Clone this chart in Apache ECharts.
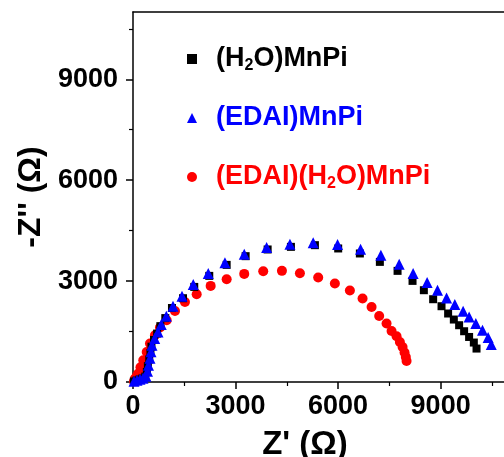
<!DOCTYPE html>
<html><head><meta charset="utf-8">
<script src="https://cdn.jsdelivr.net/npm/echarts@6/dist/echarts.min.js"></script>
<style>html,body{margin:0;padding:0;background:#fff}#c{width:504px;height:457px}</style>
</head><body><div id="c"></div>
<script>
const seriesNames = ['(H2O)MnPi', '(EDAI)MnPi', '(EDAI)(H2O)MnPi'];
const seriesColors = ['#000000', '#0000ff', '#ff0000'];
const seriesSymbols = ['rect', 'triangle', 'circle'];
const xMajorTicks = [0, 3000, 6000, 9000];
const xMinorTicks = [1500, 4500, 7500, 10500];
const yMajorTicks = [0, 3000, 6000, 9000];
const yMinorTicks = [1500, 4500, 7500, 10500];
const xTitle = "Z' (Ω)";
const yTitle = "-Z'' (Ω)";

// (H2O)MnPi - black squares
const h2oX = [25,105,190,275,360,405,435,475,510,540,615,705,800,945,1140,1462,1792,2231,2740,3295,3939,4620,5322,6003,6637,7222,7740,8178,8509,8781,9026,9219,9386,9541,9687,9833,9971,10050];
const h2oY = [15,45,75,105,160,300,470,670,860,1050,1250,1440,1660,1900,2200,2491,2827,3155,3482,3741,3940,4018,4068,3970,3821,3571,3304,3006,2729,2461,2253,2036,1857,1688,1509,1339,1173,994];

// (EDAI)MnPi - blue triangles
const edaiX = [29,117,205,292,380,424,453,497,526,556,634,731,827,974,1170,1433,1763,2202,2690,3254,3909,4591,5272,5985,6658,7251,7787,8196,8605,8909,9173,9415,9658,9833,10029,10225,10389,10480];
const edaiY = [21,51,80,110,170,318,497,705,899,1092,1292,1488,1708,1955,2253,2551,2899,3226,3542,3801,4000,4098,4137,4089,3949,3771,3503,3226,2958,2729,2500,2304,2104,1935,1738,1539,1321,1113];

// (EDAI)(H2O)MnPi - red circles
const mixX = [29,58,117,155,219,301,401,497,643,789,985,1228,1520,1863,2272,2740,3254,3810,4357,4883,5418,5906,6345,6716,6980,7202,7418,7564,7711,7807,7886,7944,7982,8003];
const mixY = [21,101,185,250,438,646,893,1143,1390,1619,1836,2113,2381,2610,2857,3057,3214,3295,3304,3235,3107,2929,2720,2482,2232,1964,1738,1518,1360,1190,1042,875,744,625];

const FONT = "'Liberation Sans', Arial, sans-serif";
const pairs = (xs, ys) => xs.map((x, i) => [x, ys[i]]);
const seriesData = [pairs(h2oX, h2oY), pairs(edaiX, edaiY), pairs(mixX, mixY)];
const symbolSizes = [8, 11, 10];
const richKeys = ['k', 'b', 'r'];

const rich = {};
richKeys.forEach((k, i) => {
  rich[k] = { color: seriesColors[i], fontSize: 27, fontWeight: 'bold', fontFamily: FONT, lineHeight: 30, verticalAlign: 'middle' };
  rich[k + 's'] = { color: seriesColors[i], fontSize: 16, fontWeight: 'bold', fontFamily: FONT, lineHeight: 24, verticalAlign: 'bottom' };
});

const chart = echarts.init(document.getElementById('c'), null, { renderer: 'canvas' });
const axisLine = { show: true, lineStyle: { color: '#000', width: 1.5 } };
const labelStyle = { color: '#000', fontSize: 27, fontWeight: 'bold', fontFamily: FONT, formatter: v => String(v) };

const option = {
  animation: false,
  backgroundColor: '#fff',
  grid: { left: 133, right: -5, top: 12, bottom: 75, containLabel: false, outerBoundsMode: 'none' },
  legend: {
    orient: 'vertical', left: 187, top: 44, padding: 0, itemGap: 29,
    itemWidth: 10, itemHeight: 10,
    data: seriesNames.map((n, i) => ({ name: n, icon: seriesSymbols[i] })),
    textStyle: { padding: [0, 0, 0, 14], lineHeight: 30, rich: rich },
    formatter: function (name) {
      const k = richKeys[seriesNames.indexOf(name)];
      const parts = name.split('H2O');
      return parts.map(p => p ? '{' + k + '|' + p + '}' : '').join('{' + k + '|H}{' + k + 's|2}{' + k + '|O}');
    }
  },
  xAxis: [
    { type: 'value', position: 'bottom', min: 0, max: 11000, interval: 3000,
      name: xTitle, nameLocation: 'middle', nameGap: 46,
      nameTextStyle: { color: '#000', fontSize: 33, fontWeight: 'bold', fontFamily: FONT, padding: [0, 32, 0, 0] },
      axisLine: axisLine, splitLine: { show: false },
      axisTick: { show: true, inside: false, length: 7, lineStyle: { color: '#000', width: 1.5 }, customValues: xMajorTicks },
      axisLabel: Object.assign({ margin: 11, customValues: xMajorTicks }, labelStyle) },
    { type: 'value', position: 'bottom', min: 0, max: 11000, interval: 1500,
      axisLine: { show: false }, splitLine: { show: false }, axisLabel: { show: false },
      axisTick: { show: true, inside: false, length: 4, lineStyle: { color: '#000', width: 1.2 }, customValues: xMinorTicks } },
    { type: 'value', position: 'top', min: 0, max: 11000, interval: 3000,
      axisLine: axisLine, splitLine: { show: false }, axisLabel: { show: false }, axisTick: { show: false } }
  ],
  yAxis: [
    { type: 'value', position: 'left', min: 0, max: 11000, interval: 3000,
      name: yTitle, nameLocation: 'middle', nameGap: 82, nameRotate: 90,
      nameTextStyle: { color: '#000', fontSize: 32, fontWeight: 'bold', fontFamily: FONT },
      axisLine: axisLine, splitLine: { show: false },
      axisTick: { show: true, inside: false, length: 7, lineStyle: { color: '#000', width: 1.5 }, customValues: yMajorTicks },
      axisLabel: Object.assign({ margin: 15, customValues: yMajorTicks }, labelStyle) },
    { type: 'value', position: 'left', offset: 0, min: 0, max: 11000, interval: 1500,
      axisLine: { show: false }, splitLine: { show: false }, axisLabel: { show: false },
      axisTick: { show: true, inside: false, length: 4, lineStyle: { color: '#000', width: 1.2 }, customValues: yMinorTicks } }
  ],
  series: [2, 0, 1].map(i => ({
    name: seriesNames[i], type: 'scatter', xAxisIndex: 0, yAxisIndex: 0,
    symbol: seriesSymbols[i], symbolSize: symbolSizes[i],
    itemStyle: { color: seriesColors[i], opacity: 1 },
    data: seriesData[i], z: 2 + (i === 1 ? 2 : i === 0 ? 1 : 0)
  }))
};
chart.setOption(option);
</script>
</body></html>
